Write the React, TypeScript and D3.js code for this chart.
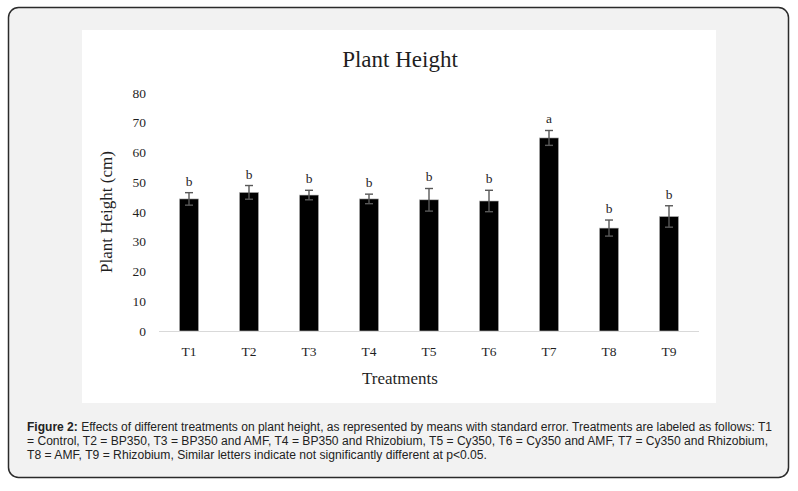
import React, { useRef, useEffect } from "react";
import * as d3 from "d3";

// Mittelwerte und Standardfehler
const treatments = ["T1", "T2", "T3", "T4", "T5", "T6", "T7", "T8", "T9"];
const means = [44.4, 46.6, 45.7, 44.4, 44.1, 43.7, 64.9, 34.6, 38.5];
const errors = [2.1, 2.3, 1.6, 1.6, 3.8, 3.6, 2.5, 2.7, 3.6];
const letters = ["b", "b", "b", "b", "b", "b", "a", "b", "b"];
const yTicks = [0, 10, 20, 30, 40, 50, 60, 70, 80];

const captionLines = [
  "Effects of different treatments on plant height, as represented by means with standard error. Treatments are labeled as follows: T1",
  "= Control, T2 = BP350, T3 = BP350 and AMF, T4 = BP350 and Rhizobium, T5 = Cy350, T6 = Cy350 and AMF, T7 = Cy350 and Rhizobium,",
  "T8 = AMF, T9 = Rhizobium, Similar letters indicate not significantly different at p<0.05.",
];
const captionWidths = [745, 741, 460];

export default function App() {
  const ref = useRef<SVGSVGElement | null>(null);

  useEffect(() => {
    if (!ref.current) return;
    const svg = d3.select(ref.current);
    svg.selectAll("*").remove();

    const W = 798;
    const H = 491;
    svg.attr("width", W).attr("height", H);

    // Rahmen der Abbildung
    svg.append("rect")
      .attr("x", 8.5).attr("y", 7.5)
      .attr("width", 780).attr("height", 470)
      .attr("rx", 10)
      .attr("fill", "#f2f2f2")
      .attr("stroke", "#2b2b2b")
      .attr("stroke-width", 1.5);

    // weisser Diagrammbereich
    svg.append("rect")
      .attr("x", 82).attr("y", 30)
      .attr("width", 634).attr("height", 373)
      .attr("fill", "#ffffff");

    const x = d3.scaleBand<string>()
      .domain(treatments)
      .range([159, 699])
      .paddingInner(0.68)
      .paddingOuter(0.34);

    const y = d3.scaleLinear().domain([0, 80]).range([331, 93]);

    const serif = "'Times New Roman', 'Liberation Serif', serif";
    const ink = "#1f1f1f";

    // Titel
    svg.append("text")
      .attr("x", 400).attr("y", 67)
      .attr("text-anchor", "middle")
      .attr("font-family", serif)
      .attr("font-size", 23)
      .attr("fill", ink)
      .text("Plant Height");

    // Y-Achse (nur Beschriftungen)
    svg.append("g")
      .selectAll("text")
      .data(yTicks)
      .enter()
      .append("text")
      .attr("x", 146)
      .attr("y", (d) => y(d))
      .attr("dy", "0.35em")
      .attr("text-anchor", "end")
      .attr("font-family", serif)
      .attr("font-size", 13.5)
      .attr("fill", ink)
      .text((d) => d);

    svg.append("text")
      .attr("transform", `translate(112, 212) rotate(-90)`)
      .attr("text-anchor", "middle")
      .attr("font-family", serif)
      .attr("font-size", 17)
      .attr("fill", ink)
      .text("Plant Height (cm)");

    // Balken
    svg.append("g")
      .selectAll("rect")
      .data(means)
      .enter()
      .append("rect")
      .attr("x", (_, i) => x(treatments[i])!)
      .attr("y", (d) => y(d))
      .attr("width", x.bandwidth())
      .attr("height", (d) => y(0) - y(d))
      .attr("fill", "#000000")
      .attr("stroke", "#bfbfbf")
      .attr("stroke-width", 0.6);

    // X-Achse
    svg.append("line")
      .attr("x1", 159).attr("x2", 699)
      .attr("y1", y(0) + 0.5).attr("y2", y(0) + 0.5)
      .attr("stroke", "#d9d9d9")
      .attr("stroke-width", 1.2);

    svg.append("g")
      .selectAll("text")
      .data(treatments)
      .enter()
      .append("text")
      .attr("x", (d) => x(d)! + x.bandwidth() / 2)
      .attr("y", 356)
      .attr("text-anchor", "middle")
      .attr("font-family", serif)
      .attr("font-size", 13.5)
      .attr("fill", ink)
      .text((d) => d);

    svg.append("text")
      .attr("x", 400).attr("y", 384)
      .attr("text-anchor", "middle")
      .attr("font-family", serif)
      .attr("font-size", 17)
      .attr("fill", ink)
      .text("Treatments");

    // Fehlerbalken
    const eb = svg.append("g")
      .attr("stroke", "#595959")
      .attr("stroke-width", 1.4);
    means.forEach((m, i) => {
      const cx = x(treatments[i])! + x.bandwidth() / 2;
      const top = y(m + errors[i]);
      const bot = y(m - errors[i]);
      eb.append("line").attr("x1", cx).attr("x2", cx).attr("y1", top).attr("y2", bot);
      eb.append("line").attr("x1", cx - 4).attr("x2", cx + 4).attr("y1", top).attr("y2", top);
      eb.append("line").attr("x1", cx - 4).attr("x2", cx + 4).attr("y1", bot).attr("y2", bot);
    });

    // Signifikanzbuchstaben
    svg.append("g")
      .selectAll("text")
      .data(letters)
      .enter()
      .append("text")
      .attr("x", (_, i) => x(treatments[i])! + x.bandwidth() / 2)
      .attr("y", (_, i) => y(means[i] + errors[i]) - 7)
      .attr("text-anchor", "middle")
      .attr("font-family", serif)
      .attr("font-size", 13.5)
      .attr("fill", ink)
      .text((d) => d);

    // Bildunterschrift
    const sans = "'Liberation Sans', Arial, sans-serif";
    const cap = svg.append("g")
      .attr("font-family", sans)
      .attr("font-size", 12.5)
      .attr("fill", "#222222");
    captionLines.forEach((line, i) => {
      const t = cap.append("text")
        .attr("x", 27)
        .attr("y", 430.5 + i * 14)
        .attr("textLength", captionWidths[i])
        .attr("lengthAdjust", "spacingAndGlyphs");
      if (i === 0) {
        t.append("tspan").attr("font-weight", "bold").text("Figure 2:");
        t.append("tspan").text(" " + line);
      } else {
        t.text(line);
      }
    });
  }, []);

  return (
    <div style={{ position: "absolute", left: 0, top: 0 }}>
      <svg ref={ref} style={{ display: "block" }} />
    </div>
  );
}
